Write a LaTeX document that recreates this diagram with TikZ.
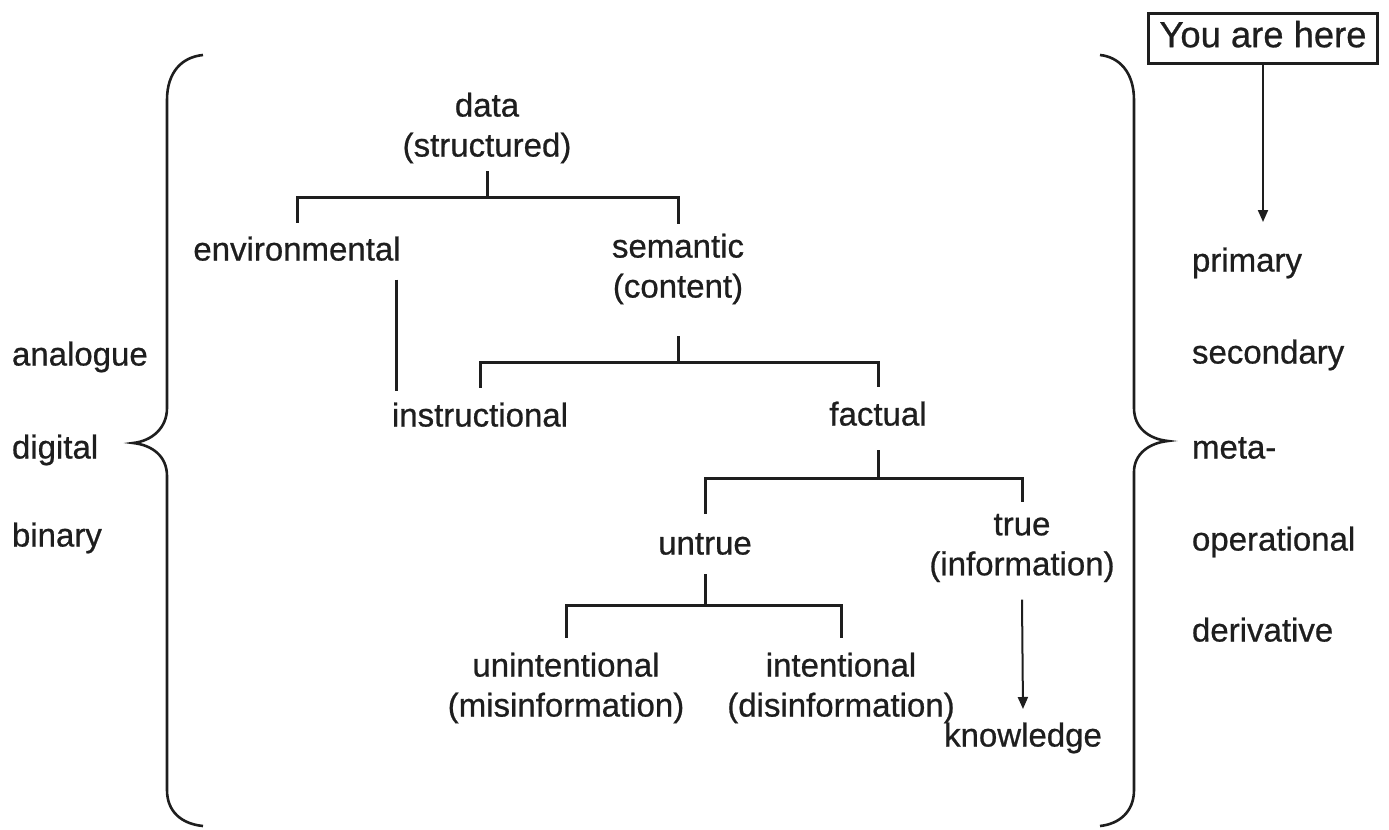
\documentclass[tikz,border=0pt]{standalone}
\usepackage{fontspec}
\setmainfont{Liberation Sans}[BoldFont=Liberation Sans, BoldFeatures={FakeBold=0.7}]
\usetikzlibrary{arrows.meta}
\definecolor{ink}{HTML}{1E1E1E}
\begin{document}
\begin{tikzpicture}[x=0.5pt,y=-0.5pt,
  lbl/.style={font=\fontsize{16.5}{20}\selectfont\bfseries, text=ink, inner sep=0pt, outer sep=0pt, align=center},
  one/.style={lbl, text height=12pt, text depth=3.5pt},
  tree/.style={draw=ink, line width=1.5pt},
  brace/.style={draw=ink, line width=1.3pt},
  arr/.style={draw=ink, line width=1pt, -{Triangle[width=5pt,length=6pt]}},
]
\useasboundingbox (0,0) rectangle (1389,830);

% tree nodes
\node[lbl] (data) at (487,128) {data\\(structured)};
\node[one] (env) at (297,252) {environmental};
\node[lbl] (sem) at (678,269) {semantic\\(content)};
\node[one] (instr) at (480,418) {instructional};
\node[one] (fact) at (878,417) {factual};
\node[one] (untrue) at (705,546) {untrue};
\node[lbl] (true) at (1022,548) {true\\(information)};
\node[lbl] (unint) at (566,688) {unintentional\\(misinformation)};
\node[lbl] (intent) at (841,688) {intentional\\(disinformation)};
\node[one] (know) at (1023,738) {knowledge};

% left labels
\node[one, anchor=west] (ana) at (12,357) {analogue};
\node[one, anchor=west] (dig) at (12,450) {digital};
\node[one, anchor=west] (bin) at (12,538) {binary};

% right labels
\node[one, anchor=west] (prim) at (1192,263) {primary};
\node[one, anchor=west] (sec) at (1192,355) {secondary};
\node[one, anchor=west] (meta) at (1192,450) {meta-};
\node[one, anchor=west] (oper) at (1192,542) {operational};
\node[one, anchor=west] (deriv) at (1192,633) {derivative};

% you are here
\node[lbl, font=\fontsize{18.2}{20}\selectfont\bfseries, text height=13pt, text depth=3.8pt,
      draw=ink, line width=1.5pt, minimum width=114.5pt, minimum height=25pt] (you) at (1263,38) {You are here};

% tree connectors
\coordinate (j1) at (487,197);
\draw[tree] ([yshift=-4pt]data.south) -- (j1);
\draw[tree] ([yshift=7pt]env.north) |- (j1) -| ([yshift=5pt]sem.north);

\coordinate (j2) at (678,362);
\draw[tree] ([yshift=-16pt]sem.south) -- (j2);
\draw[tree] ([yshift=7.5pt]instr.north) |- (j2) -| ([yshift=7.5pt]fact.north);

\draw[tree] ([xshift=-2pt,yshift=-6pt]env.south east) -- ([xshift=-2pt,yshift=6pt]env.south east |- instr.north);

\coordinate (j3) at (878,478);
\draw[tree] ([yshift=-8.75pt]fact.south) -- (j3);
\draw[tree] ([yshift=8.5pt]untrue.north) |- (j3) -| ([yshift=6pt]true.north);

\coordinate (j4) at (705,605);
\draw[tree] ([yshift=-6.25pt]untrue.south) -- (j4);
\draw[tree] ([yshift=7.5pt]unint.north) |- (j4) -| ([yshift=7.5pt]intent.north);

% arrows
\draw[arr] ([yshift=-8.75pt]true.south) -- ([yshift=6.75pt]know.north);
\draw[arr] (you.south) -- ([yshift=12.75pt]you.south |- prim.north);

% braces
\draw[brace] (203,55) .. controls (182,57) and (167,72) .. (167,100) -- (167,408)
  .. controls (167,428) and (152,441) .. (133,443)
  .. controls (152,445) and (167,456) .. (167,476) -- (167,790)
  .. controls (167,812) and (182,824) .. (203,826);
\draw[brace] (1100,55) .. controls (1119,57) and (1134,72) .. (1134,100) -- (1134,408)
  .. controls (1134,428) and (1149,439) .. (1168,441)
  .. controls (1149,443) and (1134,454) .. (1134,472) -- (1134,790)
  .. controls (1134,812) and (1119,824) .. (1100,826);
\end{tikzpicture}
\end{document}
